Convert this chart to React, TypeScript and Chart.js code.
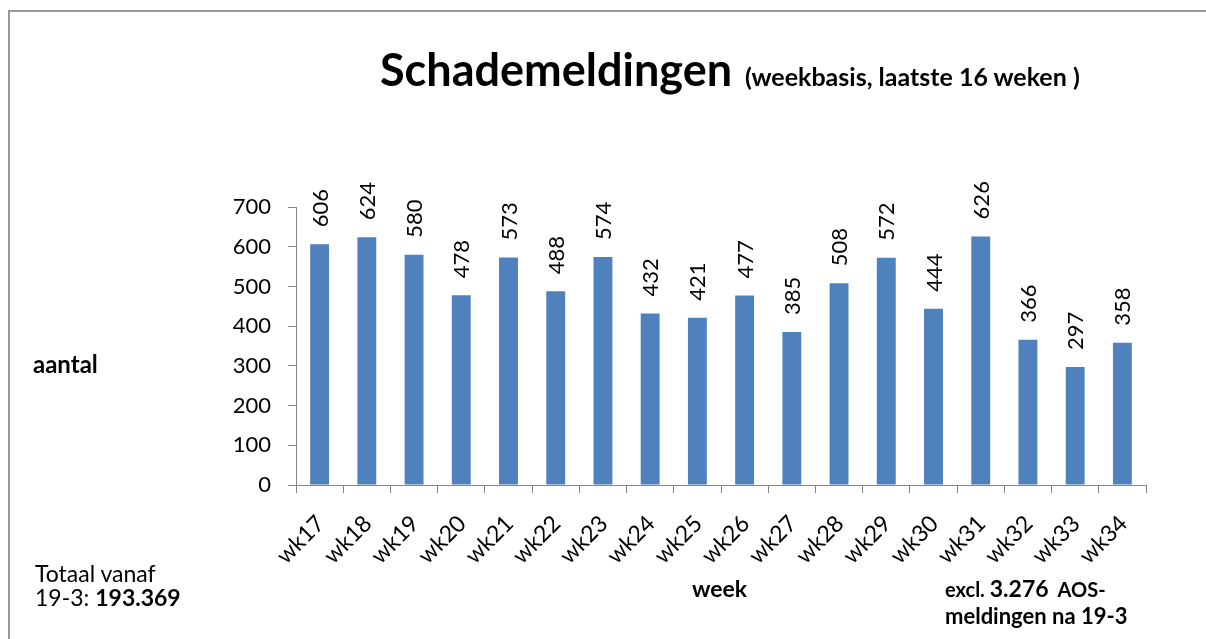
import React, { useEffect, useRef } from "react";
import { Chart, registerables } from "chart.js";

Chart.register(...registerables);

const weeks = ["wk17", "wk18", "wk19", "wk20", "wk21", "wk22", "wk23", "wk24", "wk25", "wk26", "wk27", "wk28", "wk29", "wk30", "wk31", "wk32", "wk33", "wk34"];
const meldingen = [606, 624, 580, 478, 573, 488, 574, 432, 421, 477, 385, 508, 572, 444, 626, 366, 297, 358];
const yMin = 0;
const yMax = 700;
const yStep = 100;

const titleText = "Schademeldingen";
const subtitleText = "(weekbasis, laatste 16 weken )";
const yTitle = "aantal";
const xTitle = "week";
const totaalLine1 = "Totaal vanaf";
const totaalPrefix = "19-3: ";
const totaalValue = "193.369";
const exclPrefix = "excl. ";
const exclValue = "3.276";
const exclSuffix = "  AOS-";
const exclLine2 = "meldingen na 19-3";

const FONT = "Lato, 'Open Sans', sans-serif";
const AXIS = "#868686";
const BAR = "#4F81BD";

const valueLabels = {
  id: "valueLabels",
  afterDatasetsDraw(chart: any) {
    const ctx = chart.ctx;
    const meta = chart.getDatasetMeta(0);
    const data = chart.data.datasets[0].data;
    ctx.save();
    ctx.font = "22px " + FONT;
    ctx.fillStyle = "#000";
    ctx.textAlign = "left";
    ctx.textBaseline = "middle";
    meta.data.forEach((el: any, i: number) => {
      ctx.save();
      ctx.translate(el.x + 1, el.y - 17);
      ctx.rotate(-Math.PI / 2);
      ctx.fillText(String(data[i]), 0, 0);
      ctx.restore();
    });
    ctx.restore();
  },
};

function Txt(props: { x: number; baseline: number; size: number; bold?: boolean; children: any }) {
  const { x, baseline, size, bold, children } = props;
  return (
    <div
      style={{
        position: "absolute",
        left: x,
        top: baseline - 0.887 * size,
        fontFamily: FONT,
        fontSize: size,
        lineHeight: 1,
        fontWeight: bold ? 700 : 400,
        whiteSpace: "nowrap",
        color: "#000",
      }}
    >
      {children}
    </div>
  );
}

export default function App() {
  const ref = useRef<HTMLCanvasElement>(null);

  useEffect(() => {
    if (!ref.current) return;
    const chart = new Chart(ref.current, {
      type: "bar",
      data: {
        labels: weeks,
        datasets: [
          {
            data: meldingen,
            backgroundColor: BAR,
            borderWidth: 0,
            barPercentage: 0.4,
            categoryPercentage: 1,
          },
        ],
      },
      options: {
        responsive: false,
        animation: false,
        devicePixelRatio: 1,
        layout: { padding: { top: 207, left: 0, right: 60, bottom: 0 } },
        plugins: {
          legend: { display: false },
          tooltip: { enabled: false },
          title: { display: false },
        },
        scales: {
          x: {
            offset: true,
            grid: {
              display: true,
              drawOnChartArea: false,
              drawTicks: true,
              tickLength: 8,
              color: AXIS,
              offset: true,
            },
            border: { display: true, color: AXIS, width: 1 },
            ticks: {
              minRotation: 45,
              maxRotation: 45,
              autoSkip: false,
              padding: 17,
              labelOffset: 1,
              color: "#000",
              font: { family: FONT, size: 23 },
            },
            afterFit: (s: any) => {
              s.height = 639 - 485;
            },
          },
          y: {
            min: yMin,
            max: yMax,
            grid: {
              display: true,
              drawOnChartArea: false,
              drawTicks: true,
              tickLength: 8,
              color: AXIS,
            },
            border: { display: true, color: AXIS, width: 1 },
            ticks: {
              stepSize: yStep,
              padding: 17,
              color: "#000",
              font: { family: FONT, size: 22 },
            },
            afterFit: (s: any) => {
              s.width = 296;
            },
          },
        },
      },
      plugins: [valueLabels],
    } as any);
    return () => chart.destroy();
  }, []);

  return (
    <div
      style={{
        position: "fixed",
        left: 0,
        top: 0,
        width: 1206,
        height: 639,
        overflow: "hidden",
        background: "#fff",
      }}
    >
      <div style={{ position: "absolute", left: 8, top: 10, width: 1198, height: 2, background: "#999" }} />
      <div style={{ position: "absolute", left: 8, top: 10, width: 2, height: 629, background: "#999" }} />
      <canvas ref={ref} width={1206} height={639} style={{ position: "absolute", left: 0, top: 0, display: "block" }} />
      <div
        style={{
          position: "absolute",
          left: 380,
          top: 87 - 0.887 * 45,
          display: "flex",
          alignItems: "baseline",
          fontFamily: FONT,
          fontWeight: 700,
          lineHeight: 1,
          whiteSpace: "nowrap",
        }}
      >
        <span style={{ fontSize: 45 }}>{titleText}</span>
        <span style={{ fontSize: 25, marginLeft: 13 }}>{subtitleText}</span>
      </div>
      <Txt x={33} baseline={373} size={24} bold>
        {yTitle}
      </Txt>
      <Txt x={692} baseline={597} size={23} bold>
        {xTitle}
      </Txt>
      <Txt x={35} baseline={582} size={23}>
        {totaalLine1}
      </Txt>
      <Txt x={35} baseline={606} size={23}>
        {totaalPrefix}
        <b>{totaalValue}</b>
      </Txt>
      <Txt x={945} baseline={597} size={23} bold>
        <span style={{ fontSize: 20 }}>{exclPrefix}</span>
        <span>{exclValue}</span>
        <span style={{ fontSize: 20, whiteSpace: "pre" }}>{exclSuffix}</span>
      </Txt>
      <Txt x={945} baseline={625} size={22} bold>
        {exclLine2}
      </Txt>
    </div>
  );
}
